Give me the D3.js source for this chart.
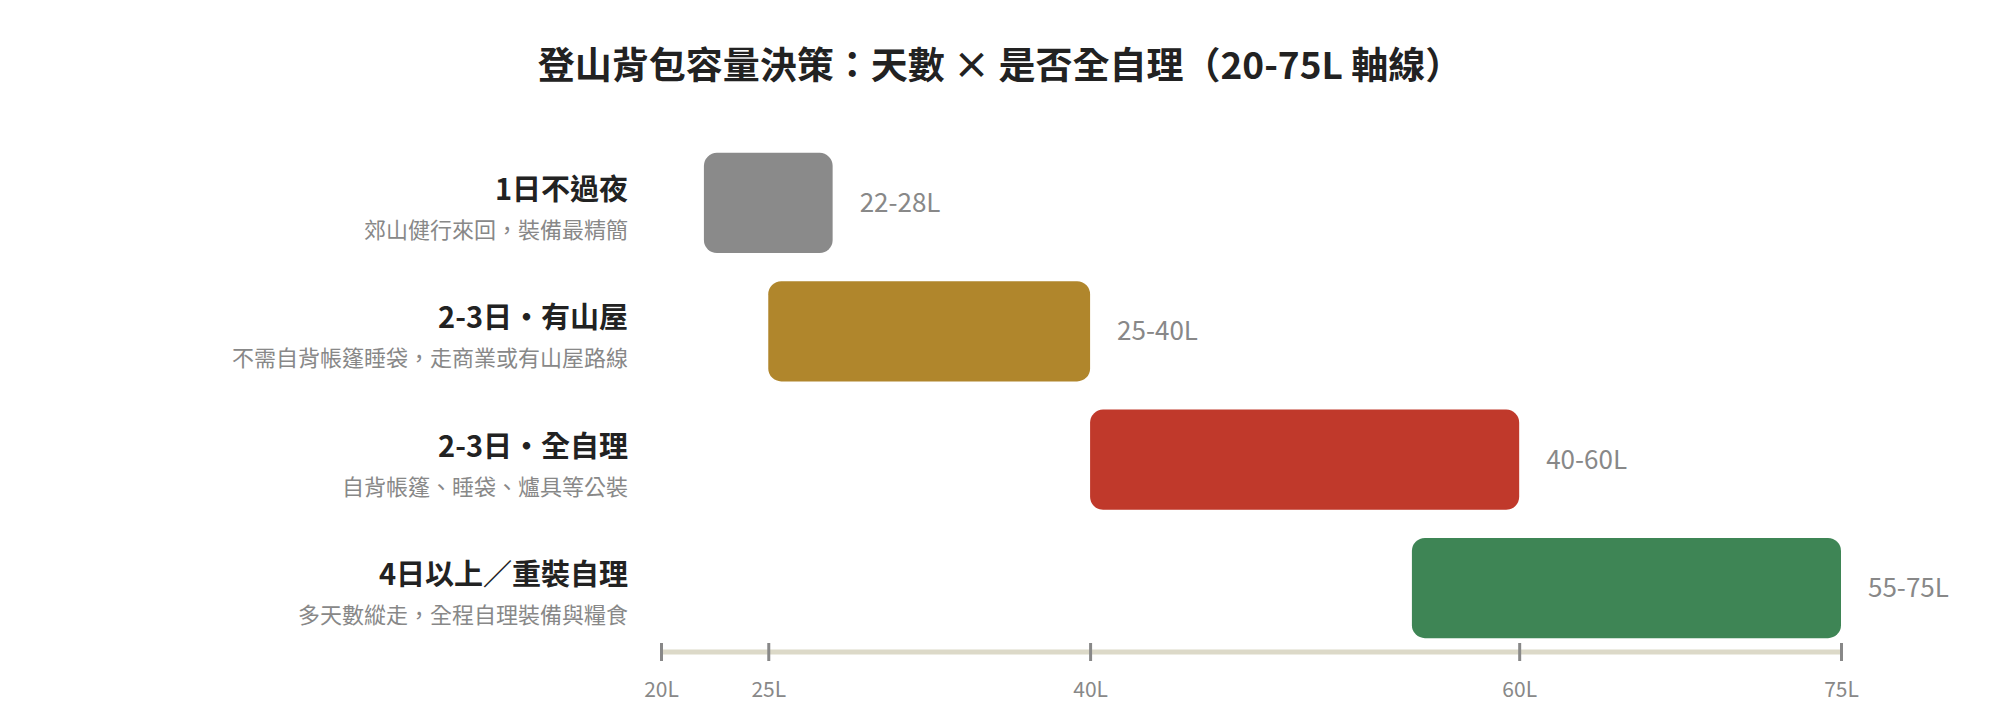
<!DOCTYPE html>
<html><head><meta charset="utf-8">
<script src="https://cdn.jsdelivr.net/npm/d3@7"></script>
<style>body{margin:0;background:#fff}svg{font-family:"Noto Sans CJK TC","Noto Sans",sans-serif}</style>
</head><body><svg id="chart"></svg>
<script>
const titles = ["1日不過夜", "2-3日・有山屋", "2-3日・全自理", "4日以上／重裝自理"];
const subtitles = ["郊山健行來回，裝備最精簡", "不需自背帳篷睡袋，走商業或有山屋路線", "自背帳篷、睡袋、爐具等公裝", "多天數縱走，全程自理裝備與糧食"];
const lows = [22, 25, 40, 55];
const highs = [28, 40, 60, 75];
const colors = ["#8a8a8a", "#b0862c", "#c0392b", "#3e8555"];
const ticks = [20, 25, 40, 60, 75];

const W = 2000, H = 720;
const svg = d3.select("#chart").attr("width", W).attr("height", H);

const x = d3.scaleLinear().domain([20, 75]).range([661, 1841]);
const y = d3.scaleBand().domain(d3.range(titles.length)).range([140, 651]).paddingInner(0.22).paddingOuter(0.1);

svg.append("text").attr("x", 1000).attr("y", 79).attr("text-anchor", "middle")
  .style("font-size", "37px").style("font-weight", "bold").attr("fill", "#222")
  .text("登山背包容量決策：天數 × 是否全自理（20-75L 軸線）");

const rows = svg.selectAll(".row").data(titles).enter().append("g").attr("class", "row");

rows.append("rect")
  .attr("x", (d, i) => x(lows[i]))
  .attr("y", (d, i) => y(i))
  .attr("width", (d, i) => x(highs[i]) - x(lows[i]))
  .attr("height", y.bandwidth())
  .attr("rx", 13)
  .attr("fill", (d, i) => colors[i]);

rows.append("text")
  .attr("x", (d, i) => x(highs[i]) + 27)
  .attr("y", (d, i) => y(i) + y.bandwidth() / 2 + 9)
  .style("font-size", "26px").attr("fill", "#888")
  .text((d, i) => `${lows[i]}-${highs[i]}L`);

rows.append("text")
  .attr("x", 628).attr("y", (d, i) => y(i) + y.bandwidth() / 2 - 3)
  .attr("text-anchor", "end").style("font-size", "29px").style("font-weight", "bold").attr("fill", "#222")
  .text(d => d);

rows.append("text")
  .attr("x", 628).attr("y", (d, i) => y(i) + y.bandwidth() / 2 + 35)
  .attr("text-anchor", "end").style("font-size", "22px").attr("fill", "#888")
  .text((d, i) => subtitles[i]);

// 軸線
const axisY = 652;
svg.append("line").attr("x1", x(20)).attr("x2", x(75)).attr("y1", axisY).attr("y2", axisY)
  .attr("stroke", "#dcd9c8").attr("stroke-width", 5);

const axis = svg.append("g").attr("transform", `translate(0,${axisY})`)
  .call(d3.axisBottom(x).tickValues(ticks).tickSize(0).tickPadding(30).tickFormat(d => d + "L"));
axis.select(".domain").remove();
axis.selectAll("text").style("font-size", "21px").attr("fill", "#888").style("font-family", "'Noto Sans CJK TC',sans-serif");
axis.selectAll(".tick").append("line").attr("y1", -9).attr("y2", 9).attr("stroke", "#888").attr("stroke-width", 3);
</script></body></html>
